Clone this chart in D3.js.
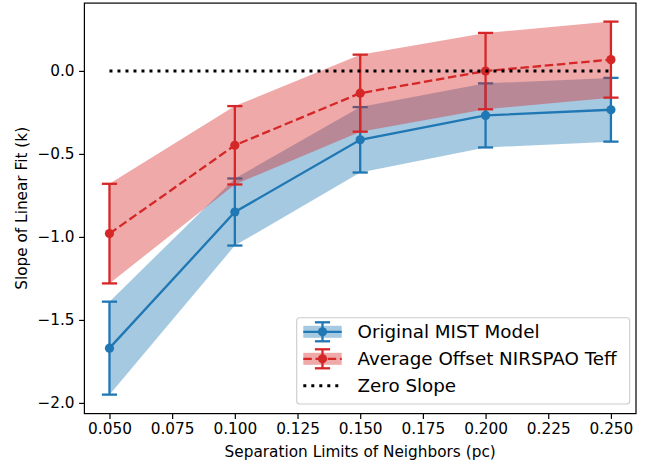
<!DOCTYPE html>
<html><head><meta charset="utf-8">
<script src="https://cdn.jsdelivr.net/npm/d3@7"></script>
<style>body{margin:0;background:#fff}svg{display:block;font-family:"DejaVu Sans",sans-serif}</style>
</head><body>
<script>
const separations = [0.05, 0.10, 0.15, 0.20, 0.25];
const mistSlope = [-1.670, -0.850, -0.415, -0.268, -0.234];
const mistErr = [0.280, 0.202, 0.197, 0.193, 0.192];
const nirspaoSlope = [-0.980, -0.448, -0.134, -0.001, 0.068];
const nirspaoErr = [0.300, 0.236, 0.232, 0.230, 0.229];
const xTicks = [0.05, 0.075, 0.10, 0.125, 0.15, 0.175, 0.20, 0.225, 0.25];
const yTicks = [0.0, -0.5, -1.0, -1.5, -2.0];
const legendLabels = ["Original MIST Model", "Average Offset NIRSPAO Teff", "Zero Slope"];

const W = 654, H = 462;
const L = 84.4, R = 636, T = 3.1, B = 413.6;
const blue = "#1f77b4", red = "#d62728";
const LW = 2.3, CAP = 7.6, MR = 4.6;

const svg = d3.select("body").append("svg").attr("width", W).attr("height", H);
const x = d3.scaleLinear().domain([0.04, 0.26]).range([L, R]);
const y = d3.scaleLinear().domain([-2.0643, 0.4085]).range([B, T]);

function series(vals, errs) {
  return separations.map((s, i) => ({s, v: vals[i], e: errs[i]}));
}
const fmtMinus = s => s.replace("-", "\u2212");

function drawFill(data, color) {
  svg.append("path").datum(data)
    .attr("d", d3.area().x(d => x(d.s)).y0(d => y(d.v - d.e)).y1(d => y(d.v + d.e)))
    .attr("fill", color).attr("fill-opacity", 0.4).attr("stroke", "none");
}
function drawErr(data, color, dash) {
  const g = svg.append("g");
  g.append("path").datum(data)
    .attr("d", d3.line().x(d => x(d.s)).y(d => y(d.v)))
    .attr("fill", "none").attr("stroke", color).attr("stroke-width", LW)
    .attr("stroke-dasharray", dash);
  data.forEach(d => {
    g.append("line").attr("x1", x(d.s)).attr("x2", x(d.s))
      .attr("y1", y(d.v - d.e)).attr("y2", y(d.v + d.e))
      .attr("stroke", color).attr("stroke-width", LW);
    [d.v - d.e, d.v + d.e].forEach(c => {
      g.append("line").attr("x1", x(d.s) - CAP).attr("x2", x(d.s) + CAP)
        .attr("y1", y(c)).attr("y2", y(c))
        .attr("stroke", color).attr("stroke-width", LW);
    });
    g.append("circle").attr("cx", x(d.s)).attr("cy", y(d.v)).attr("r", MR).attr("fill", color);
  });
}

const mist = series(mistSlope, mistErr);
const nir = series(nirspaoSlope, nirspaoErr);
drawFill(mist, blue);
drawErr(mist, blue, null);
drawFill(nir, red);
drawErr(nir, red, "8.5,3.7");

// zero line
svg.append("line").attr("x1", x(separations[0])).attr("x2", x(separations[separations.length-1]))
  .attr("y1", y(0)).attr("y2", y(0))
  .attr("stroke", "#000").attr("stroke-width", 3).attr("stroke-dasharray", "3,5");

// axes
const xAxis = d3.axisBottom(x).tickValues(xTicks).tickFormat(d3.format(".3f")).tickSize(5.3).tickPadding(4.5);
const yAxis = d3.axisLeft(y).tickValues(yTicks).tickFormat(d => fmtMinus(d3.format(".1f")(d))).tickSize(5.3).tickPadding(4.5);
const gx = svg.append("g").attr("transform", `translate(0,${B})`).call(xAxis);
const gy = svg.append("g").attr("transform", `translate(${L},0)`).call(yAxis);
[gx, gy].forEach(g => {
  g.select(".domain").remove();
  g.selectAll("line").attr("stroke", "#000").attr("stroke-width", 1.2);
  g.selectAll("text").attr("font-size", 15.3).attr("fill", "#000").attr("font-family", "DejaVu Sans");
});
svg.append("rect").attr("x", L).attr("y", T).attr("width", R - L).attr("height", B - T)
  .attr("fill", "none").attr("stroke", "#000").attr("stroke-width", 1.2);

svg.append("text").attr("x", (L + R) / 2).attr("y", 457).attr("text-anchor", "middle")
  .attr("font-size", 15.3).text("Separation Limits of Neighbors (pc)");
svg.append("text").attr("transform", `translate(27,${(T + B) / 2}) rotate(-90)`).attr("text-anchor", "middle")
  .attr("font-size", 15.3).text("Slope of Linear Fit (k)");

// legend
const lg = svg.append("g");
lg.append("rect").attr("x", 296.7).attr("y", 317.7).attr("width", 333).attr("height", 86.3)
  .attr("rx", 3).attr("fill", "#fff").attr("fill-opacity", 0.8).attr("stroke", "#cccccc").attr("stroke-width", 1.1);
const rows = [331.8, 358.8, 385.8];
const hx0 = 303.3, hx1 = 341.7, hc = (hx0 + hx1) / 2;
[[blue, null], [red, "8.5,3.7"]].forEach(([c, dash], i) => {
  const yy = rows[i];
  lg.append("rect").attr("x", hx0).attr("y", yy - 6).attr("width", hx1 - hx0).attr("height", 12)
    .attr("fill", c).attr("fill-opacity", 0.4);
  lg.append("line").attr("x1", hx0).attr("x2", hx1).attr("y1", yy).attr("y2", yy)
    .attr("stroke", c).attr("stroke-width", LW).attr("stroke-dasharray", dash);
  lg.append("line").attr("x1", hc).attr("x2", hc).attr("y1", yy - 9.5).attr("y2", yy + 9.5)
    .attr("stroke", c).attr("stroke-width", LW);
  [yy - 9.5, yy + 9.5].forEach(cy => lg.append("line").attr("x1", hc - CAP).attr("x2", hc + CAP)
    .attr("y1", cy).attr("y2", cy).attr("stroke", c).attr("stroke-width", LW));
  lg.append("circle").attr("cx", hc).attr("cy", yy).attr("r", MR).attr("fill", c);
});
lg.append("line").attr("x1", hx0).attr("x2", hx1).attr("y1", rows[2]).attr("y2", rows[2])
  .attr("stroke", "#000").attr("stroke-width", 3).attr("stroke-dasharray", "3,5");
legendLabels.forEach((t, i) => {
  lg.append("text").attr("x", 357.5).attr("y", rows[i]).attr("dy", "0.36em")
    .attr("font-size", 18.3).attr("fill", "#000").text(t);
});
</script>
</body></html>
